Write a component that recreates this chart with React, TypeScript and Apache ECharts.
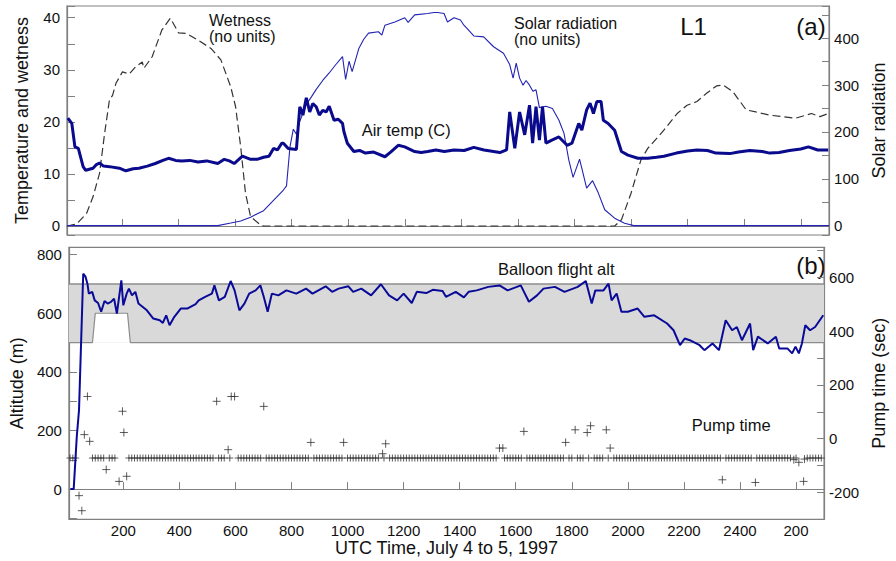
import React, { useEffect, useRef } from "react";
import * as echarts from "echarts";

const FONT = "'Liberation Sans', Arial, Helvetica, sans-serif";

// Panel (a): [UTC time, value]; times past 2400 are the next day
const WETNESS: [number, number][] = [
  [6, 0], [40, 0.4], [75, 2.4], [98, 5.6], [121, 10.1], [139, 17.8], [156, 24.2], [167, 25.1], [179, 27.4],
  [202, 29.6], [226, 29.2], [249, 30.6], [272, 31.5], [278, 30.3], [307, 32.5], [341, 37.6], [371, 39.9],
  [382, 38.9], [400, 37.1], [428, 37.0], [469, 35.7], [515, 34.1], [550, 31.9], [585, 26.7], [602, 22.9],
  [620, 15.2], [637, 6.3], [655, 1.8], [690, 0.2], [701, 0], [1942, 0], [1966, 1.2], [2000, 6.3],
  [2035, 12.7], [2059, 14.9], [2116, 18.4], [2163, 21.6], [2198, 23.2], [2233, 23.9], [2267, 25.5],
  [2302, 26.9], [2325, 27.1], [2360, 25.8], [2407, 22.3], [2441, 21.9], [2488, 21.3], [2534, 21.0],
  [2581, 20.7], [2638, 21.6], [2668, 21.0], [2697, 21.6],
];

const SOLAR: [number, number][] = [
  [6, 0], [539, 0], [585, 5.5], [620, 10], [655, 18], [701, 32], [736, 54], [771, 76], [782, 85],
  [794, 167], [806, 206], [817, 195], [829, 223], [852, 259], [870, 275], [887, 291], [910, 310],
  [933, 326], [955, 343], [980, 361], [991, 312], [1003, 351], [1014, 329], [1038, 379], [1055, 398],
  [1072, 411], [1107, 414], [1119, 407], [1130, 428], [1165, 435], [1200, 444], [1212, 434], [1235, 450],
  [1281, 453], [1304, 455], [1316, 455], [1339, 453], [1351, 435], [1374, 444], [1397, 439], [1409, 428],
  [1420, 421], [1444, 405], [1479, 403], [1514, 382], [1549, 368], [1571, 344], [1583, 315], [1594, 347],
  [1606, 315], [1618, 300], [1629, 310], [1641, 300], [1653, 287], [1664, 290], [1676, 252], [1699, 255],
  [1722, 250], [1745, 225], [1763, 197], [1780, 140], [1795, 103], [1818, 142], [1843, 80], [1864, 96],
  [1884, 70], [1907, 34], [1942, 16], [1977, 5], [2010, 0], [2700, 0],
];

const AIR_TEMP: [number, number][] = [
  [9, 20.7], [23, 19.7], [34, 15.2], [46, 14.9], [63, 11.4], [72, 10.7], [98, 11.1], [110, 11.8],
  [121, 12.1], [135, 11.5], [156, 11.4], [191, 11.1], [214, 10.6], [240, 11.0], [260, 11.1], [290, 11.5],
  [318, 12.0], [345, 12.6], [365, 13.0], [390, 12.6], [411, 12.5], [440, 12.6], [469, 12.3], [500, 12.5],
  [539, 12.0], [562, 12.8], [580, 12.5], [597, 12.0], [626, 13.4], [655, 12.8], [678, 12.8], [701, 13.2],
  [720, 13.4], [736, 14.9], [750, 14.6], [765, 15.9], [771, 15.9], [788, 14.9], [817, 14.7], [829, 22.9],
  [840, 21.3], [852, 24.6], [864, 21.9], [875, 23.5], [887, 22.9], [898, 21.3], [910, 22.2], [922, 21.9],
  [933, 23.0], [950, 20.3], [965, 20.5], [980, 19.7], [985, 18.1], [997, 15.9], [1020, 14.3], [1040, 14.5],
  [1061, 14.0], [1090, 14.2], [1130, 13.3], [1150, 14.2], [1177, 15.5], [1200, 15.2], [1235, 14.3],
  [1258, 14.1], [1281, 14.3], [1310, 14.6], [1340, 14.3], [1374, 14.6], [1410, 14.5], [1444, 15.1],
  [1480, 14.6], [1514, 14.3], [1536, 14.1], [1560, 14.6], [1571, 21.9], [1589, 14.9], [1606, 21.9],
  [1624, 17.5], [1641, 23.2], [1652, 15.9], [1664, 22.9], [1676, 16.5], [1687, 22.9], [1699, 15.9],
  [1720, 16.5], [1745, 17.1], [1774, 15.5], [1791, 15.9], [1815, 19.7], [1826, 18.4], [1843, 22.3],
  [1855, 23.6], [1867, 21.6], [1879, 23.9], [1894, 23.9], [1902, 20.3], [1919, 19.7], [1942, 18.4],
  [1966, 14.3], [1989, 13.6], [2024, 13.0], [2059, 13.0], [2090, 13.2], [2116, 13.4], [2160, 14.0],
  [2200, 14.4], [2233, 14.6], [2270, 14.5], [2300, 14.0], [2349, 13.9], [2380, 14.2], [2420, 14.5],
  [2464, 14.3], [2490, 14.0], [2523, 14.1], [2560, 14.5], [2600, 14.8], [2627, 15.2], [2660, 14.6],
  [2697, 14.6],
];

// Panel (b)
const ALTITUDE: [number, number][] = [
  [11, 0], [23, 0], [34, 179], [42, 270], [57, 735], [65, 725], [72, 701], [77, 667], [89, 673], [98, 644],
  [110, 635], [121, 605], [133, 642], [144, 633], [156, 639], [167, 650], [177, 599], [193, 712], [200, 627],
  [212, 667], [220, 684], [231, 661], [243, 673], [254, 633], [284, 610], [307, 582], [330, 576], [341, 567],
  [353, 593], [365, 559], [382, 588], [405, 616], [428, 616], [458, 631], [469, 644], [492, 656], [516, 667],
  [525, 695], [541, 644], [562, 656], [583, 710], [597, 678], [614, 610], [632, 633], [649, 667], [672, 678],
  [689, 695], [701, 656], [715, 605], [730, 667], [753, 661], [782, 678], [817, 667], [852, 684], [875, 667],
  [922, 692], [945, 673], [968, 684], [1003, 692], [1020, 673], [1049, 684], [1084, 661], [1119, 699],
  [1148, 661], [1177, 644], [1200, 667], [1229, 635], [1247, 673], [1281, 669], [1304, 680], [1339, 676],
  [1351, 656], [1386, 673], [1415, 654], [1432, 673], [1461, 678], [1502, 690], [1542, 695], [1571, 678],
  [1618, 695], [1647, 639], [1676, 661], [1699, 684], [1740, 690], [1774, 673], [1821, 690], [1850, 710],
  [1871, 633], [1884, 678], [1913, 678], [1931, 701], [1942, 644], [1960, 667], [1977, 605], [2000, 605],
  [2035, 616], [2059, 588], [2094, 593], [2140, 565], [2163, 542], [2186, 491], [2203, 514], [2221, 508],
  [2256, 491], [2273, 474], [2302, 497], [2325, 474], [2349, 576], [2372, 542], [2389, 553], [2407, 508],
  [2436, 565], [2447, 474], [2464, 520], [2499, 497], [2528, 520], [2540, 480], [2569, 480], [2586, 463],
  [2598, 486], [2610, 463], [2621, 497], [2633, 559], [2650, 542], [2668, 553], [2697, 593],
];

// flight altitude band (m): base, top, and the raised lower edge
const BAND_BASE = 500;
const BAND_UPPER: [number, number][] = [[6, 700], [2700, 700]];
const BAND_LOWER: [number, number][] = [[6, 500], [90, 500], [100, 600], [215, 600], [225, 500], [2700, 500]];

// pump time (sec): regular readings on the baseline, plus off-baseline readings
const PUMP_BASE_VALUE = -72;
const PUMP_BASE_TIMES: number[] = [
  10, 20, 30, 90, 100, 110, 120, 130, 150, 160, 170,
  220, 230, 240, 250, 260, 270, 280, 290, 300, 310, 320, 330, 340, 350, 360, 370, 380, 390, 400,
  410, 420, 430, 440, 450, 460, 470, 480, 490, 500, 510, 520, 540, 550, 560, 580,
  610, 620, 630, 640, 650, 660, 670, 680, 690, 710, 720, 730, 740, 750, 760, 770, 780, 790, 800,
  810, 820, 830, 840, 850, 860, 880, 890, 900, 910, 920, 930, 940, 950, 960, 970, 980,
  1000, 1010, 1020, 1030, 1040, 1050, 1060, 1070, 1080, 1090, 1100, 1110, 1130,
  1150, 1160, 1170, 1180, 1190, 1200, 1210, 1220, 1230, 1240, 1250, 1260, 1270, 1280, 1290, 1300,
  1310, 1320, 1330, 1340, 1350, 1360, 1370, 1380, 1390, 1400, 1410, 1420, 1430, 1440, 1450, 1460,
  1470, 1480, 1490, 1500, 1510, 1520, 1530, 1560, 1570, 1580, 1590, 1600, 1610, 1620,
  1640, 1650, 1660, 1670, 1680, 1690, 1700, 1710, 1720, 1730, 1740, 1750, 1760, 1770,
  1790, 1800, 1820, 1830, 1840, 1860, 1880, 1890, 1900, 1910, 1930,
  1950, 1960, 1970, 1980, 1990, 2000, 2010, 2020, 2030, 2040, 2050, 2060, 2070, 2080, 2090, 2100,
  2110, 2120, 2130, 2140, 2150, 2160, 2170, 2180, 2190, 2200, 2210, 2220, 2230, 2240, 2250, 2260,
  2270, 2280, 2290, 2300, 2310, 2320, 2330, 2350, 2360, 2370, 2380, 2390, 2400, 2410, 2420, 2430, 2440,
  2460, 2470, 2480, 2490, 2500, 2510, 2520, 2530, 2540, 2550, 2560, 2570, 2580, 2600,
  2640, 2650, 2660, 2670, 2680, 2690,
];
const PUMP_OFF: [number, number][] = [
  [42, -212], [52, -268], [61, 15], [72, 157], [80, -10], [139, -115], [185, -159], [197, 102], [202, 23],
  [212, -140], [533, 139], [574, -41], [585, 157], [597, 157], [701, 120], [869, -14], [986, -14],
  [1125, -56], [1136, -19], [1542, -35], [1554, -35], [1629, 27], [1778, -14], [1812, 33], [1855, 23],
  [1867, 48], [1923, 33], [1937, -35], [2337, -153], [2455, -163], [2592, -78], [2610, -88], [2627, -159],
  [2630, -76],
];

const X_MIN = 6;
const X_MAX = 2700;
const X_STEP = 200;

const GRAY = "#808080";
const CROSS = "path://M0,5L10,5M5,0L5,10";

export default function App() {
  const ref = useRef<HTMLDivElement>(null);

  useEffect(() => {
    if (!ref.current) return;
    const chart = echarts.init(ref.current, undefined, { renderer: "svg" });

    const axisLine = { show: true, lineStyle: { color: GRAY, width: 1.2 } };
    const xAxisBase = (gridIndex: number, labels: boolean): any => ({
      type: "value",
      gridIndex,
      min: X_MIN,
      max: X_MAX,
      minInterval: X_STEP,
      maxInterval: X_STEP,
      axisLine,
      axisTick: { show: true, inside: true, length: 7, lineStyle: { color: GRAY } },
      splitLine: { show: false },
      axisLabel: labels
        ? {
            show: true,
            color: "#111",
            fontSize: 15,
            fontFamily: FONT,
            margin: 4,
            formatter: (v: number) =>
              v % X_STEP === 0 && v >= X_STEP ? String(v > 2400 ? v - 2400 : v) : "",
          }
        : { show: false },
    });

    const yAxisBase = (
      gridIndex: number,
      position: "left" | "right",
      min: number,
      max: number,
      step: number,
      labelEvery: number,
      name: string
    ): any => ({
      type: "value",
      gridIndex,
      position,
      min,
      max,
      minInterval: step,
      maxInterval: step,
      name,
      nameLocation: "middle",
      nameGap: position === "left" ? 36 : 37,
      nameTextStyle: { color: "#111", fontSize: 18, fontFamily: FONT },
      axisLine,
      axisTick: { show: true, inside: true, length: position === "left" ? 8 : 7, lineStyle: { color: GRAY } },
      splitLine: { show: false },
      axisLabel: {
        color: "#111",
        fontSize: 15,
        fontFamily: FONT,
        margin: position === "left" ? 7 : 5,
        formatter: (v: number) => (v % labelEvery === 0 ? String(v) : ""),
      },
    });

    const txt = (text: string, x: number, y: number, size: number, align = "left"): any => ({
      type: "text",
      x,
      y,
      silent: true,
      style: {
        text,
        fill: "#111",
        fontSize: size,
        fontFamily: FONT,
        textAlign: align,
        textVerticalAlign: "middle",
      },
    });

    const option: any = {
      animation: false,
      backgroundColor: "#fff",
      grid: [
        { left: 67, top: 6, width: 773.7, height: 229, show: true, borderColor: GRAY, borderWidth: 1.2, backgroundColor: "transparent" },
        { left: 67, top: 247.3, width: 773.7, height: 272, show: true, borderColor: GRAY, borderWidth: 1.2, backgroundColor: "transparent" },
      ],
      xAxis: [
        xAxisBase(0, false),
        {
          ...xAxisBase(1, true),
          name: "UTC Time, July 4 to 5, 1997",
          nameLocation: "middle",
          nameGap: 17,
          nameTextStyle: { color: "#111", fontSize: 18, fontFamily: FONT },
        },
      ],
      yAxis: [
        yAxisBase(0, "left", -1.73, 42.25, 5, 10, "Temperature and wetness"),
        yAxisBase(0, "right", -20, 469, 50, 100, "Solar radiation"),
        yAxisBase(1, "left", -103, 825, 100, 200, "Altitude (m)"),
        yAxisBase(1, "right", -300, 712, 100, 200, "Pump time (sec)"),
      ],
      series: [
        {
          type: "line",
          xAxisIndex: 0,
          yAxisIndex: 0,
          data: WETNESS,
          symbol: "none",
          lineStyle: { color: "#333", width: 1.2, type: [8, 4] },
          z: 2,
        },
        {
          type: "line",
          xAxisIndex: 0,
          yAxisIndex: 1,
          data: SOLAR,
          symbol: "none",
          lineStyle: { color: "#2323b4", width: 1.1 },
          z: 3,
        },
        {
          type: "line",
          xAxisIndex: 0,
          yAxisIndex: 0,
          data: AIR_TEMP,
          symbol: "none",
          lineStyle: { color: "#0a0a8c", width: 3 },
          z: 4,
        },
        {
          type: "line",
          xAxisIndex: 1,
          yAxisIndex: 2,
          data: BAND_UPPER,
          symbol: "none",
          lineStyle: { color: "#8c8c8c", width: 1.5 },
          areaStyle: { color: "#d9d9d9", opacity: 1, origin: BAND_BASE },
          z: 1,
        },
        {
          type: "line",
          xAxisIndex: 1,
          yAxisIndex: 2,
          data: BAND_LOWER,
          symbol: "none",
          lineStyle: { color: "#8c8c8c", width: 1.2 },
          areaStyle: { color: "#ffffff", opacity: 1, origin: BAND_BASE },
          z: 1.5,
        },
        {
          type: "scatter",
          xAxisIndex: 1,
          yAxisIndex: 3,
          data: PUMP_BASE_TIMES.map((t) => [t, PUMP_BASE_VALUE]),
          symbol: CROSS,
          symbolSize: 7,
          itemStyle: { color: "none", borderColor: "#333", borderWidth: 1 },
          z: 2,
        },
        {
          type: "scatter",
          xAxisIndex: 1,
          yAxisIndex: 3,
          data: PUMP_OFF,
          symbol: CROSS,
          symbolSize: 8,
          itemStyle: { color: "none", borderColor: "#333", borderWidth: 1 },
          z: 2,
        },
        {
          type: "line",
          xAxisIndex: 1,
          yAxisIndex: 2,
          data: ALTITUDE,
          symbol: "none",
          lineStyle: { color: "#0a0a99", width: 2 },
          z: 5,
        },
      ],
      graphic: [
        txt("Wetness", 209, 20.5, 16),
        txt("(no units)", 209, 36.5, 16),
        txt("Solar radiation", 514, 23.5, 16),
        txt("(no units)", 514, 39.5, 16),
        txt("L1", 693.5, 26, 24, "center"),
        txt("(a)", 811, 26, 24, "center"),
        txt("Air temp (C)", 361.7, 129.7, 16.5),
        txt("Balloon flight alt", 498, 268.5, 16.5),
        txt("(b)", 811, 265, 24, "center"),
        txt("Pump time", 691.7, 424.5, 16.5),
      ],
    };

    chart.setOption(option);
    return () => chart.dispose();
  }, []);

  return (
    <div
      ref={ref}
      style={{ position: "fixed", left: 0, top: 0, width: 896, height: 561, background: "#fff" }}
    />
  );
}
